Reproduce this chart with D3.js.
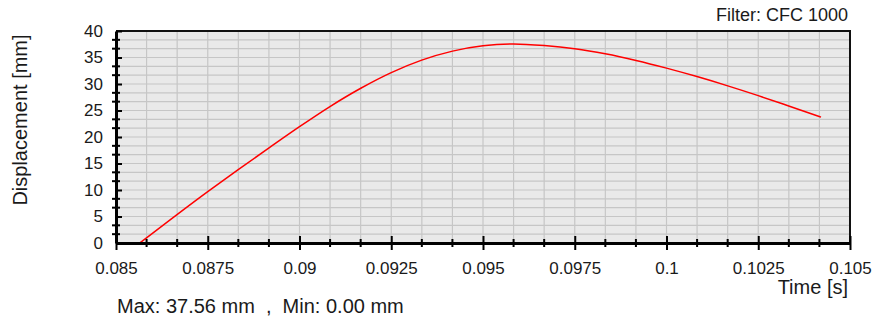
<!DOCTYPE html>
<html>
<head>
<meta charset="utf-8">
<script src="https://cdn.jsdelivr.net/npm/d3@7"></script>
<style>
  body { margin: 0; background: #fff; }
  svg { display: block; font-family: "Liberation Sans", Arial, sans-serif; }
  text { fill: #1a1a1a; }
</style>
</head>
<body>
<div id="chart-area"><svg></svg></div>
<script>
const chartSize = { width: 876, height: 321 };
const plot = { left: 116, right: 850, top: 31, bottom: 243 };

// data
const times = [0.08565, 0.0875, 0.08833, 0.08917, 0.09, 0.09083, 0.09167, 0.0925, 0.09333, 0.09417, 0.095,
  0.09583, 0.09667, 0.0975, 0.09833, 0.09917, 0.1, 0.10083, 0.10167, 0.1025, 0.10333, 0.10421];
const displacement = [0, 9.7, 13.85, 17.95, 21.95, 25.75, 29.2, 32.15, 34.5, 36.2, 37.2,
  37.55, 37.25, 36.65, 35.7, 34.45, 33.0, 31.4, 29.65, 27.8, 25.85, 23.75];
const xTicks = [0.085, 0.0875, 0.09, 0.0925, 0.095, 0.0975, 0.1, 0.1025, 0.105];
const xTickLabels = ['0.085', '0.0875', '0.09', '0.0925', '0.095', '0.0975', '0.1', '0.1025', '0.105'];
const yTicks = [0, 5, 10, 15, 20, 25, 30, 35, 40];
const filterLabel = 'Filter: CFC 1000';
const xLabel = 'Time [s]';
const yLabel = 'Displacement [mm]';
const summary = 'Max: 37.56 mm\u00a0\u00a0,\u00a0\u00a0Min: 0.00 mm';

const minorOf = (ticks) => {
  const out = [];
  for (let i = 0; i < ticks.length - 1; i++) {
    const step = (ticks[i + 1] - ticks[i]) / 3;
    out.push(ticks[i] + step, ticks[i] + 2 * step);
  }
  return out;
};

const main = () => {
  const svg = d3.select('#chart-area svg')
    .attr('width', chartSize.width)
    .attr('height', chartSize.height);

  const x = d3.scaleLinear().domain([0.085, 0.105]).range([plot.left, plot.right]);
  const y = d3.scaleLinear().domain([0, 40]).range([plot.bottom, plot.top]);

  const xMinor = minorOf(xTicks);
  const yMinor = minorOf(yTicks);

  svg.append('rect')
    .attr('x', plot.left).attr('y', plot.top)
    .attr('width', plot.right - plot.left).attr('height', plot.bottom - plot.top)
    .attr('fill', '#e9e9e9');

  const grid = svg.append('g').attr('stroke', '#c6c6c6').attr('stroke-width', 1.2);
  grid.selectAll('.vg').data(xMinor.concat(xTicks.slice(1, -1))).enter().append('line')
    .attr('x1', d => x(d)).attr('x2', d => x(d))
    .attr('y1', plot.top).attr('y2', plot.bottom);
  grid.selectAll('.hg').data(yMinor.concat(yTicks.slice(1, -1))).enter().append('line')
    .attr('x1', plot.left).attr('x2', plot.right)
    .attr('y1', d => y(d)).attr('y2', d => y(d));

  // top and right frame
  svg.append('path')
    .attr('d', `M${plot.left},${plot.top}H${plot.right}V${plot.bottom}`)
    .attr('fill', 'none').attr('stroke', '#111').attr('stroke-width', 2);

  const line = d3.line()
    .x((d, i) => x(times[i]))
    .y(d => y(d))
    .curve(d3.curveMonotoneX);
  svg.append('path')
    .datum(displacement)
    .attr('d', line)
    .attr('fill', 'none')
    .attr('stroke', '#ff0000')
    .attr('stroke-width', 1.5);

  // x axis
  const xAxis = svg.append('g')
    .attr('transform', `translate(0,${plot.bottom})`)
    .call(d3.axisBottom(x).tickValues(xTicks).tickFormat((d, i) => xTickLabels[i])
      .tickSizeInner(7).tickSizeOuter(0).tickPadding(12));
  xAxis.selectAll('.tick line').attr('y1', -7).attr('stroke-width', 2);
  xAxis.select('.domain').attr('stroke-width', 3);
  xAxis.selectAll('text').attr('font-size', 17).attr('fill', '#1a1a1a');
  xAxis.selectAll('.minor').data(xMinor).enter().append('line')
    .attr('class', 'minor')
    .attr('x1', d => x(d)).attr('x2', d => x(d))
    .attr('y1', -4).attr('y2', 4)
    .attr('stroke', '#000').attr('stroke-width', 2);

  // y axis
  const yAxis = svg.append('g')
    .attr('transform', `translate(${plot.left},0)`)
    .call(d3.axisLeft(y).tickValues(yTicks).tickSizeInner(8).tickSizeOuter(0).tickPadding(5));
  yAxis.selectAll('.tick line').attr('x2', 6).attr('stroke-width', 2);
  yAxis.select('.domain').attr('stroke-width', 3);
  yAxis.selectAll('text').attr('font-size', 17).attr('fill', '#1a1a1a');
  yAxis.selectAll('.minor').data(yMinor).enter().append('line')
    .attr('class', 'minor')
    .attr('y1', d => y(d)).attr('y2', d => y(d))
    .attr('x1', -4).attr('x2', 4)
    .attr('stroke', '#000').attr('stroke-width', 2);

  svg.append('text')
    .attr('x', 848).attr('y', 21)
    .attr('text-anchor', 'end').attr('font-size', 18)
    .text(filterLabel);

  svg.append('text')
    .attr('x', 848).attr('y', 294)
    .attr('text-anchor', 'end').attr('font-size', 20)
    .text(xLabel);

  svg.append('text')
    .attr('transform', 'translate(27,120) rotate(-90)')
    .attr('text-anchor', 'middle').attr('font-size', 20)
    .text(yLabel);

  svg.append('text')
    .attr('x', 117).attr('y', 313)
    .attr('font-size', 20)
    .text(summary);
};
window.onload = main;
</script>
</body>
</html>
